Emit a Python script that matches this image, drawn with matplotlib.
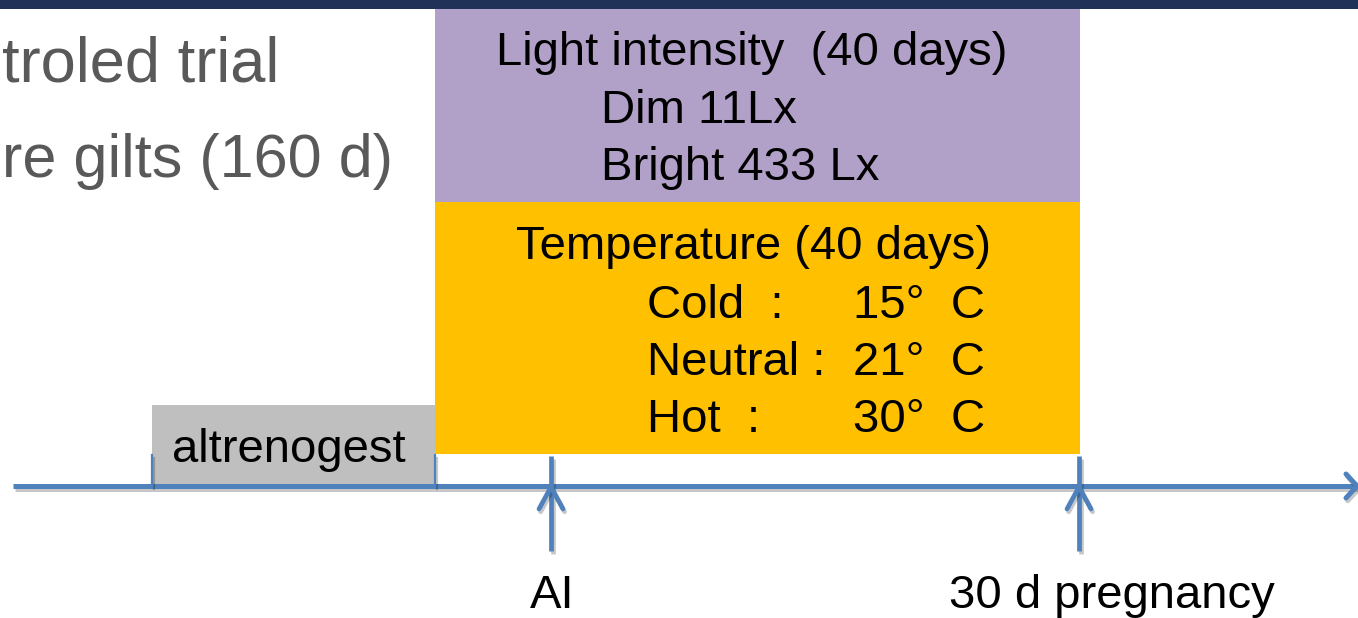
import matplotlib
matplotlib.use("Agg")
import matplotlib.pyplot as plt
from matplotlib.patches import Rectangle
import matplotlib.patheffects as pe

plt.rcParams['font.family'] = ['Liberation Sans', 'DejaVu Sans']

# ---- content ----
heading_lines = ["troled trial", "re gilts (160 d)"]
light_header = "Light intensity  (40 days)"
light_levels = ["Dim", "Bright"]
light_lux = ["11Lx", "433 Lx"]
temp_header = "Temperature (40 days)"
temp_groups = ["Cold  :", "Neutral :", "Hot  :"]
temp_values = [15, 21, 30]
pre_label = "altrenogest"

# timeline layout (pixel-like units, y grows downward)
altrenogest_span = [152, 435]
treatment_span = [435, 1080]
event_x = [551, 1079]
event_labels = ["AI", "30 d pregnancy"]

W, H = 1358, 618
fig = plt.figure(figsize=(W / 100, H / 100), dpi=100)
ax = fig.add_axes([0, 0, 1, 1])
ax.set_xlim(0, W)
ax.set_ylim(H, 0)
ax.axis('off')

BLUE = '#4F81BD'
NAVY = '#213258'
PURPLE = '#B1A0C7'
ORANGE = '#FFC000'
GREY = '#BFBFBF'
FS = 34
shadow = [pe.SimpleLineShadow(offset=(1.2, -2.0), shadow_color='black', alpha=0.22),
          pe.Normal()]

# header band
ax.add_patch(Rectangle((0, 0), W, 9, facecolor=NAVY, edgecolor='none', zorder=1))

# heading text (partially off the left edge)
for txt, yb, fs in zip(heading_lines, [81, 177], [45.5, 44]):
    ax.text(2, yb, txt, fontsize=fs, color='#595959', ha='left', va='baseline')

# treatment boxes
x0, x1 = treatment_span
ax.add_patch(Rectangle((x0, 9), x1 - x0, 202 - 9, facecolor=PURPLE,
                       edgecolor='none', zorder=2))
ax.add_patch(Rectangle((x0, 202), x1 - x0, 454 - 202, facecolor=ORANGE,
                       edgecolor='none', zorder=2))

# light intensity text
ax.text(496, 65, light_header, fontsize=FS, ha='left', va='baseline', zorder=3)
for lvl, lux, yb in zip(light_levels, light_lux, [123, 180]):
    ax.text(601, yb, f"{lvl} {lux}", fontsize=FS, ha='left', va='baseline', zorder=3)

# temperature text
ax.text(516, 259, temp_header, fontsize=FS, ha='left', va='baseline', zorder=3)
for grp, val, yb in zip(temp_groups, temp_values, [318, 375, 432]):
    ax.text(647, yb, grp, fontsize=FS, ha='left', va='baseline', zorder=3)
    ax.text(853, yb, f"{val}°  C", fontsize=FS, ha='left', va='baseline', zorder=3)

# altrenogest box
a0, a1 = altrenogest_span
ax.add_patch(Rectangle((a0, 405), a1 - a0, 486 - 405, facecolor=GREY,
                       edgecolor='none', zorder=2))
ax.text(172, 462, pre_label, fontsize=FS, ha='left', va='baseline', zorder=3)

# timeline axis with arrow head
ty = 486
ax.plot([13, 1357], [ty, ty], color=BLUE, lw=3.6, solid_capstyle='butt',
        path_effects=shadow, zorder=4)
ax.plot([1346, 1357, 1346], [474, ty, 498], color=BLUE, lw=3.6,
        solid_capstyle='round', solid_joinstyle='round', path_effects=shadow, zorder=4)

# small ticks bounding the altrenogest period
for xt in altrenogest_span:
    ax.plot([xt, xt], [455, ty], color=BLUE, lw=1.6, path_effects=shadow, zorder=4)

# event arrows
for ex in event_x:
    ax.plot([ex, ex], [456, 551], color=BLUE, lw=3.4, solid_capstyle='butt',
            path_effects=shadow, zorder=4)
    ax.plot([ex - 12, ex, ex + 12], [509, 487, 509], color=BLUE, lw=3.4,
            solid_capstyle='round', solid_joinstyle='round', path_effects=shadow, zorder=4)

# event labels
for lbl, cx in zip(event_labels, [552, 1112]):
    ax.text(cx, 608, lbl, fontsize=FS, ha='center', va='baseline', zorder=3)

fig.savefig("out.png", dpi=100)
